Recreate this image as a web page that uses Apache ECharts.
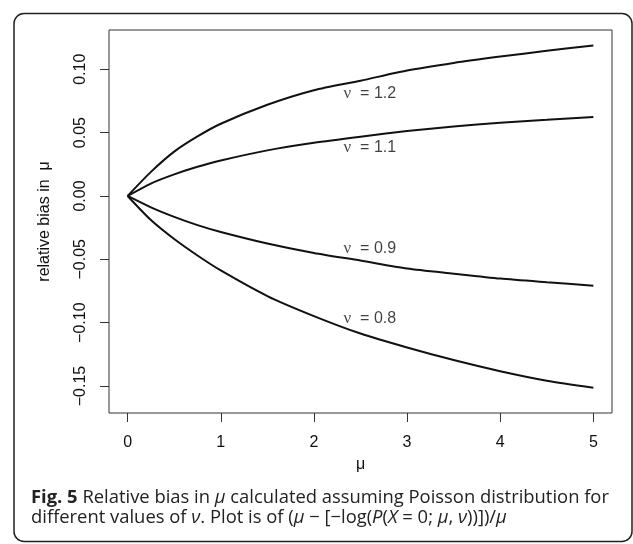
<!DOCTYPE html>
<html>
<head>
<meta charset="utf-8">
<script src="https://cdn.jsdelivr.net/npm/echarts@6/dist/echarts.min.js"></script>
<style>
  html, body { margin: 0; padding: 0; background: #fff; }
  #main { width: 633px; height: 544px; }
</style>
</head>
<body>
<div id="main"></div>
<script>
// mu values along the x axis
var muValues = [0, 0.25, 0.5, 0.75, 1, 1.5, 2, 2.5, 3, 3.5, 4, 4.5, 5];
// relative bias for each nu
var bias12 = [0, 0.019, 0.035, 0.047, 0.057, 0.072, 0.0835, 0.091, 0.099, 0.105, 0.110, 0.1146, 0.1187];
var bias11 = [0, 0.0098, 0.017, 0.023, 0.028, 0.036, 0.042, 0.0468, 0.0512, 0.0548, 0.0578, 0.0601, 0.0624];
var bias09 = [0, -0.009, -0.0165, -0.023, -0.0284, -0.0375, -0.045, -0.051, -0.0572, -0.0613, -0.0652, -0.0681, -0.0708];
var bias08 = [0, -0.019, -0.034, -0.047, -0.0588, -0.079, -0.0948, -0.1086, -0.1196, -0.1295, -0.1383, -0.1458, -0.1513];
// curve labels
var labelNu = ['1.2', '1.1', '0.9', '0.8'];
var labelX = [2.6, 2.6, 2.6, 2.6];
var labelY = [0.0805, 0.0383, -0.0418, -0.0967];
// tick labels
var xTicks = [0, 1, 2, 3, 4, 5];
var yTicks = [-0.15, -0.10, -0.05, 0.00, 0.05, 0.10];

function pairs(ys) {
  return muValues.map(function (m, i) { return [m, ys[i]]; });
}

var chart = echarts.init(document.getElementById('main'), null, { renderer: 'canvas' });

var lineStyle = { color: '#111', width: 2 };
var seriesList = [bias12, bias11, bias09, bias08].map(function (ys) {
  return {
    type: 'line',
    data: pairs(ys),
    smooth: 0.25,
    showSymbol: false,
    symbol: 'none',
    lineStyle: lineStyle,
    silent: true
  };
});
seriesList.push({
  type: 'scatter',
  symbolSize: 0,
  silent: true,
  data: labelX.map(function (x, i) { return { value: [x, labelY[i]], nu: labelNu[i] }; }),
  label: {
    show: true,
    position: 'inside',
    formatter: function (p) { return '{g|ν}  = ' + p.data.nu; },
    color: '#111',
    fontFamily: 'Liberation Sans',
    fontSize: 16,
    rich: {
      g: { fontFamily: 'Liberation Serif', fontSize: 17, color: '#111' }
    }
  }
});

var captionFont = 18.4;

var option = {
  animation: false,
  grid: {
    left: 109, right: 21, top: 30, bottom: 131,
    show: true, borderColor: '#333', borderWidth: 1
  },
  xAxis: {
    type: 'value',
    min: -0.2,
    max: 5.2,
    name: 'μ',
    nameLocation: 'middle',
    nameGap: 44,
    nameTextStyle: { fontFamily: 'Liberation Sans', fontSize: 16, color: '#111' },
    axisLine: { show: false, onZero: false },
    splitLine: { show: false },
    axisTick: { show: true, length: 9, lineStyle: { color: '#333' }, customValues: xTicks },
    axisLabel: {
      fontFamily: 'Liberation Sans', fontSize: 16, color: '#111', margin: 22,
      customValues: xTicks,
      formatter: function (v) { return String(v); }
    }
  },
  yAxis: {
    type: 'value',
    min: -0.1713,
    max: 0.131,
    name: 'relative bias in  μ',
    nameLocation: 'middle',
    nameGap: 56,
    nameRotate: 90,
    nameTextStyle: { fontFamily: 'Liberation Sans', fontSize: 16, color: '#111' },
    axisLine: { show: false, onZero: false },
    splitLine: { show: false },
    axisTick: { show: true, length: 9, lineStyle: { color: '#333' }, customValues: yTicks },
    axisLabel: {
      fontFamily: 'Liberation Sans', fontSize: 16, color: '#111', margin: 20, rotate: 90,
      customValues: yTicks,
      formatter: function (v) { return (v < 0 ? '\u2212' : '') + Math.abs(v).toFixed(2); }
    }
  },
  graphic: [
    {
      type: 'rect',
      shape: { x: 14, y: 13.5, width: 618, height: 528, r: 10 },
      style: { fill: 'none', stroke: '#222', lineWidth: 1.5 },
      silent: true
    },
    {
      type: 'text',
      x: 31, y: 498,
      style: {
        text: '{b|Fig. 5} Relative bias in {i|μ} calculated assuming Poisson distribution for',
        fontFamily: 'Open Sans', fontSize: captionFont, fill: '#222', verticalAlign: 'middle',
        rich: {
          b: { fontFamily: 'Open Sans', fontSize: captionFont, fontWeight: 'bold', fill: '#222' },
          i: { fontFamily: 'Open Sans', fontSize: captionFont, fontStyle: 'italic', fill: '#222' }
        }
      },
      silent: true
    },
    {
      type: 'text',
      x: 31, y: 518,
      style: {
        text: 'different values of {i|ν}. Plot is of ({i|μ} \u2212 [\u2212log({i|P}({i|X} = 0; {i|μ}, {i|ν}))])/{i|μ}',
        fontFamily: 'Open Sans', fontSize: captionFont, fill: '#222', verticalAlign: 'middle',
        rich: {
          i: { fontFamily: 'Open Sans', fontSize: captionFont, fontStyle: 'italic', fill: '#222' }
        }
      },
      silent: true
    }
  ],
  series: seriesList
};

chart.setOption(option);
</script>
</body>
</html>
